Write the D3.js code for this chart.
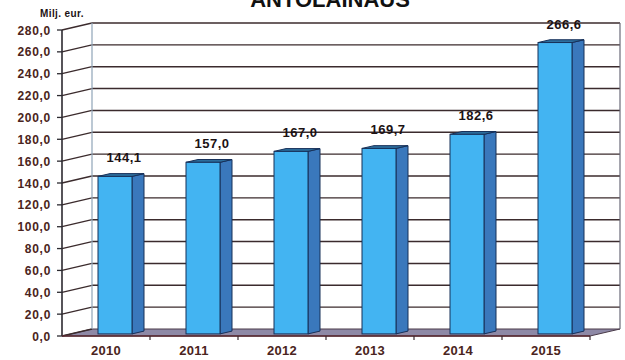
<!DOCTYPE html>
<html>
<head>
<meta charset="utf-8">
<script src="https://cdn.jsdelivr.net/npm/d3@7"></script>
<style>
  html, body { margin: 0; padding: 0; background: #ffffff; }
  svg { display: block; }
  text { font-family: "Liberation Sans", Arial, sans-serif; font-weight: bold; }
</style>
</head>
<body>
<svg id="chart" width="625" height="360"></svg>
<script>
// Lending volume per year, millions of euros
const years = ["2010", "2011", "2012", "2013", "2014", "2015"];
const values = [144.1, 157.0, 167.0, 169.7, 182.6, 266.6];
const valueLabels = ["144,1", "157,0", "167,0", "169,7", "182,6", "266,6"];
const yTicks = [0, 20, 40, 60, 80, 100, 120, 140, 160, 180, 200, 220, 240, 260, 280];
const titleText = "ANTOLAINAUS";
const unitText = "Milj. eur.";

const svg = d3.select("#chart");

// front plane scales; depth is drawn as an oblique offset
const x = d3.scaleBand().domain(years).range([62, 590]).padding(0);
const y = d3.scaleLinear().domain([0, 280]).range([336, 30]);
const DX = 30, DY = -7;          // full depth offset of the back wall
const fmt = v => d3.format(".1f")(v).replace(".", ",");

const gridCol = "#3b2b2d";
const wallEdge = "#8fa4b8";

// floor
const floor = [[x.range()[0], y(0)], [x.range()[1], y(0)],
               [x.range()[1] + DX, y(0) + DY], [x.range()[0] + DX, y(0) + DY]];
svg.append("polygon")
  .attr("points", floor.map(p => p.join(",")).join(" "))
  .attr("fill", "#8e89a6")
  .attr("stroke", "#4a3a48")
  .attr("stroke-width", 1);

// back wall gridlines
svg.append("g").selectAll("line")
  .data(yTicks.filter(t => t > 0))
  .join("line")
  .attr("x1", x.range()[0] + DX).attr("x2", x.range()[1] + DX)
  .attr("y1", d => y(d) + DY).attr("y2", d => y(d) + DY)
  .attr("stroke", gridCol).attr("stroke-width", 1.4);

// left wall gridlines (oblique)
svg.append("g").selectAll("line")
  .data(yTicks)
  .join("line")
  .attr("x1", x.range()[0]).attr("x2", x.range()[0] + DX)
  .attr("y1", d => y(d)).attr("y2", d => y(d) + DY)
  .attr("stroke", gridCol).attr("stroke-width", 1.3);

// wall edges
svg.append("line")
  .attr("x1", x.range()[0] + DX).attr("x2", x.range()[0] + DX)
  .attr("y1", y(280) + DY).attr("y2", y(0) + DY)
  .attr("stroke", wallEdge).attr("stroke-width", 1.2);
svg.append("line")
  .attr("x1", x.range()[1] + DX).attr("x2", x.range()[1] + DX)
  .attr("y1", y(280) + DY).attr("y2", y(0) + DY)
  .attr("stroke", "#6a6a78").attr("stroke-width", 1.2);

// value axis line and ticks
svg.append("line")
  .attr("x1", x.range()[0]).attr("x2", x.range()[0])
  .attr("y1", y(280)).attr("y2", y(0))
  .attr("stroke", "#2c2a30").attr("stroke-width", 1.6);
svg.append("g").selectAll("line")
  .data(yTicks)
  .join("line")
  .attr("x1", x.range()[0] - 5).attr("x2", x.range()[0])
  .attr("y1", d => y(d)).attr("y2", d => y(d))
  .attr("stroke", "#2c2a30").attr("stroke-width", 1.3);
svg.append("g").selectAll("text")
  .data(yTicks)
  .join("text")
  .attr("x", 51).attr("y", d => y(d) + 4.5)
  .attr("text-anchor", "end")
  .attr("font-size", 12).attr("letter-spacing", 0.7)
  .attr("fill", "#4a2420")
  .text(fmt);

// category axis
svg.append("line")
  .attr("x1", x.range()[0]).attr("x2", x.range()[1])
  .attr("y1", y(0)).attr("y2", y(0))
  .attr("stroke", "#5a2a30").attr("stroke-width", 1.6);
svg.append("g").selectAll("line")
  .data(years)
  .join("line")
  .attr("x1", d => x(d) + x.bandwidth()).attr("x2", d => x(d) + x.bandwidth())
  .attr("y1", y(0)).attr("y2", y(0) + 4)
  .attr("stroke", "#3a2a30").attr("stroke-width", 1.2);
svg.append("g").selectAll("text")
  .data(years)
  .join("text")
  .attr("x", d => x(d) + x.bandwidth() / 2)
  .attr("y", 355)
  .attr("text-anchor", "middle")
  .attr("font-size", 13).attr("letter-spacing", 0.3)
  .attr("fill", "#4a2420")
  .text(d => d);

// 3D columns
const barW = 34, d0 = 0.3, d1 = 0.7;
const ddx = (d1 - d0) * DX, ddy = (d1 - d0) * DY;
const data = years.map((yr, i) => ({ yr, v: values[i], label: valueLabels[i] }));
const bars = svg.append("g").selectAll("g").data(data).join("g");
const geom = d => {
  const x0 = x(d.yr) + (x.bandwidth() - barW) / 2 + d0 * DX;
  const x1 = x0 + barW;
  const yt = y(d.v) + d0 * DY;
  const yb = y(0) + d0 * DY;
  return { x0, x1, yt, yb };
};
const pts = arr => arr.map(p => p.join(",")).join(" ");
bars.append("polygon") // side
  .attr("points", d => { const g = geom(d);
    return pts([[g.x1, g.yt], [g.x1 + ddx, g.yt + ddy], [g.x1 + ddx, g.yb + ddy], [g.x1, g.yb]]); })
  .attr("fill", "#3a78bc").attr("stroke", "#173059").attr("stroke-width", 1);
bars.append("polygon") // top
  .attr("points", d => { const g = geom(d);
    return pts([[g.x0, g.yt], [g.x1, g.yt], [g.x1 + ddx, g.yt + ddy], [g.x0 + ddx, g.yt + ddy]]); })
  .attr("fill", "#2d6f9e").attr("stroke", "#173059").attr("stroke-width", 1);
bars.append("rect") // front
  .attr("x", d => geom(d).x0)
  .attr("y", d => geom(d).yt)
  .attr("width", barW)
  .attr("height", d => geom(d).yb - geom(d).yt)
  .attr("fill", "#43b4f2").attr("stroke", "#173059").attr("stroke-width", 1);

// value labels
bars.append("text")
  .attr("x", d => geom(d).x0 + barW / 2 + 9)
  .attr("y", d => geom(d).yt - 14)
  .attr("text-anchor", "middle")
  .attr("font-size", 13).attr("letter-spacing", 0.5)
  .attr("fill", "#1c1214")
  .text(d => d.label);

// unit and title
svg.append("text")
  .attr("x", 40).attr("y", 17)
  .attr("font-size", 10).attr("letter-spacing", 0.4)
  .attr("fill", "#1c1214")
  .text(unitText);
svg.append("text")
  .attr("x", 330).attr("y", 7)
  .attr("text-anchor", "middle")
  .attr("font-size", 22)
  .attr("fill", "#111")
  .text(titleText);
</script>
</body>
</html>
